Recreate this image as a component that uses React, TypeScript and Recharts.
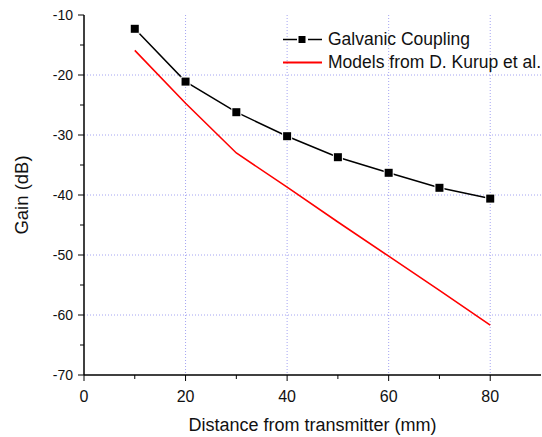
import React from 'react';
import { LineChart, Line, XAxis, YAxis, CartesianGrid } from 'recharts';

// measured points (distance in mm, gain in dB)
const galvanicDistance = [10, 20, 30, 40, 50, 60, 70, 80];
const galvanicGain = [-12.3, -21.1, -26.2, -30.2, -33.7, -36.3, -38.8, -40.6];
const kurupDistance = [10, 20, 30, 40, 50, 60, 70, 80];
const kurupGain = [-15.9, -24.7, -33.0, -38.7, -44.5, -50.2, -55.9, -61.7];

const seriesNames = ['Galvanic Coupling', 'Models from D. Kurup et al.'];
const xTicks = [0, 10, 20, 30, 40, 50, 60, 70, 80];
const yTicks = [-70, -65, -60, -55, -50, -45, -40, -35, -30, -25, -20, -15, -10];
const xGridValues = [20, 40, 60, 80];
const yGridValues = [-20, -30, -40, -50, -60];

const FONT = '"Liberation Sans", Arial, sans-serif';
const RED = '#ff0000';

const galvanicData = galvanicDistance.map((d, i) => ({ d, gain: galvanicGain[i] }));
const kurupData = kurupDistance.map((d, i) => ({ d, gain: kurupGain[i] }));

const XTick = ({ x, y, payload }: any) => {
  const major = payload.value % 20 === 0;
  return (
    <g>
      <line x1={x} y1={y} x2={x} y2={y + (major ? 6 : 4)} stroke="#000" strokeWidth={1} />
      {major && (
        <text x={x} y={y + 27} textAnchor="middle" fontSize={16} fontFamily={FONT} fill="#111">
          {payload.value}
        </text>
      )}
    </g>
  );
};

const YTick = ({ x, y, payload }: any) => {
  const major = payload.value % 10 === 0;
  return (
    <g>
      <line x1={x} y1={y} x2={x - (major ? 6 : 4)} y2={y} stroke="#000" strokeWidth={1} />
      {major && (
        <text x={x - 11} y={y + 5} textAnchor="end" fontSize={14} fontFamily={FONT} fill="#111">
          {payload.value}
        </text>
      )}
    </g>
  );
};

const SquareDot = ({ cx, cy }: any) => {
  if (cx == null || cy == null) return null;
  return <rect x={cx - 4} y={cy - 4} width={8} height={8} fill="#000" stroke="#fff" strokeWidth={2} paintOrder="stroke" />;
};

const ChartLegend = () => (
  <div style={{ position: 'absolute', left: 282, top: 28, fontFamily: FONT, fontSize: 17.5, color: '#111' }}>
    <div style={{ display: 'flex', alignItems: 'center', height: 23 }}>
      <svg width={41} height={23} style={{ marginRight: 5 }}>
        <line x1={1} y1={11.5} x2={15} y2={11.5} stroke="#000" strokeWidth={1.5} />
        <rect x={16.5} y={8} width={7} height={7} fill="#000" />
        <line x1={26} y1={11.5} x2={40} y2={11.5} stroke="#000" strokeWidth={1.5} />
      </svg>
      <span>{seriesNames[0]}</span>
    </div>
    <div style={{ display: 'flex', alignItems: 'center', height: 23 }}>
      <svg width={41} height={23} style={{ marginRight: 5 }}>
        <line x1={1} y1={11.5} x2={40} y2={11.5} stroke={RED} strokeWidth={2} />
      </svg>
      <span>{seriesNames[1]}</span>
    </div>
  </div>
);

export default function App() {
  return (
    <div style={{ position: 'fixed', left: 0, top: 0, width: 542, height: 437, background: '#fff' }}>
      <LineChart width={542} height={437} margin={{ top: 15, right: 1, bottom: 0, left: 0 }}>
        <CartesianGrid
          stroke="#a4a4f2"
          strokeDasharray="1 2"
          horizontalValues={yGridValues}
          verticalValues={xGridValues}
        />
        <XAxis
          dataKey="d"
          type="number"
          domain={[0, 90]}
          ticks={xTicks}
          interval={0}
          allowDataOverflow
          height={62}
          tickSize={0}
          tickMargin={0}
          tickLine={false}
          tick={<XTick />}
          axisLine={{ stroke: '#000', strokeWidth: 1.5 }}
          label={{
            value: 'Distance from transmitter (mm)',
            position: 'insideBottom',
            offset: 6,
            style: { fontSize: 18, fontFamily: FONT, fill: '#111' },
          }}
        />
        <YAxis
          type="number"
          domain={[-70, -10]}
          ticks={yTicks}
          interval={0}
          allowDataOverflow
          width={84}
          tickSize={0}
          tickMargin={0}
          tickLine={false}
          tick={<YTick />}
          axisLine={{ stroke: '#000', strokeWidth: 1.5 }}
          label={{
            value: 'Gain (dB)',
            angle: -90,
            position: 'insideLeft',
            offset: 21,
            style: { fontSize: 18.5, fontFamily: FONT, fill: '#111', textAnchor: 'middle' },
          }}
        />
        <Line
          data={kurupData}
          dataKey="gain"
          name={seriesNames[1]}
          stroke={RED}
          strokeWidth={1.6}
          dot={false}
          type="linear"
          isAnimationActive={false}
        />
        <Line
          data={galvanicData}
          dataKey="gain"
          name={seriesNames[0]}
          stroke="#000"
          strokeWidth={1.5}
          dot={<SquareDot />}
          type="linear"
          isAnimationActive={false}
        />
      </LineChart>
      <ChartLegend />
    </div>
  );
}
